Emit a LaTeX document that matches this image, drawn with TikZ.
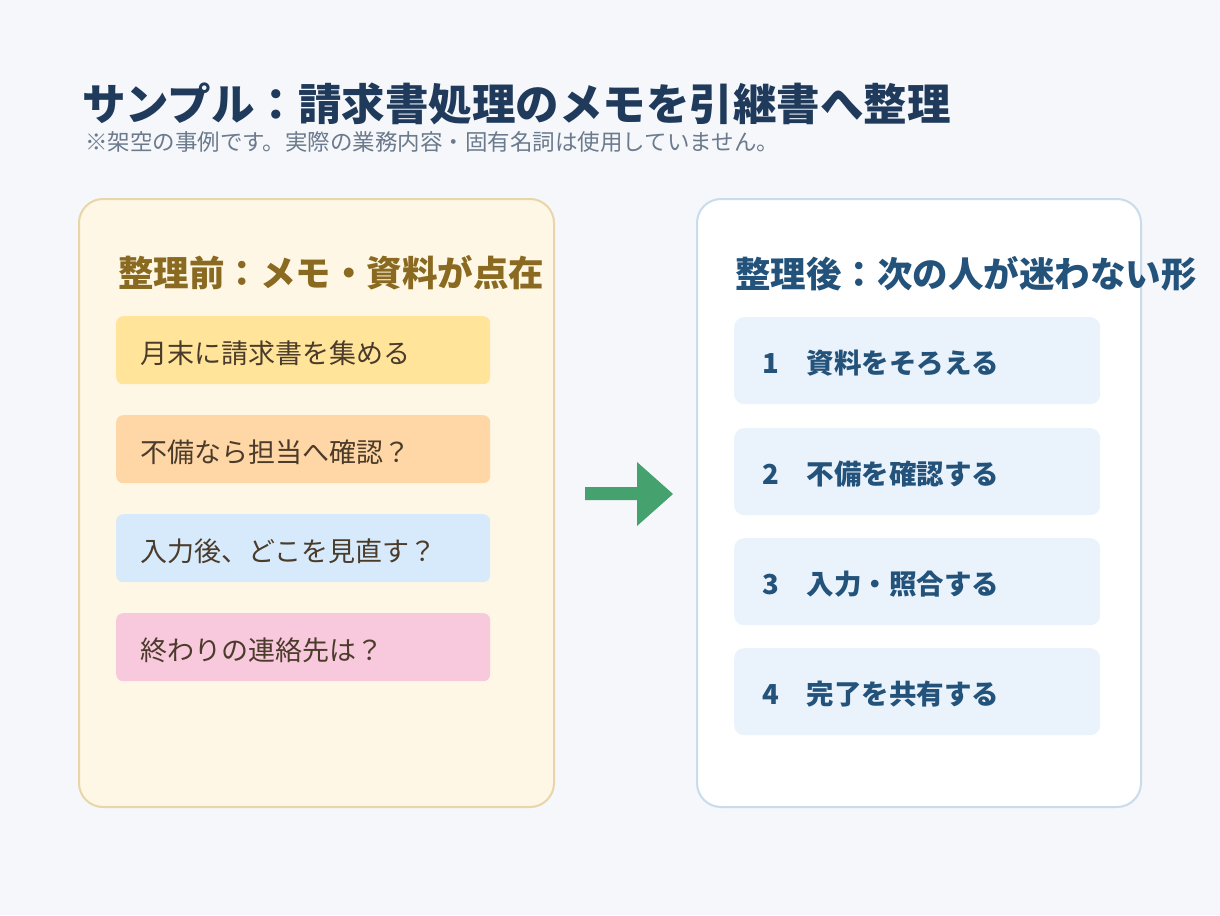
\documentclass[tikz,border=0pt]{standalone}
\usepackage{fontspec}
\setmainfont{Noto Sans CJK JP}
\usepackage{xcolor}
\definecolor{bg}{HTML}{F5F7FB}
\definecolor{navy}{HTML}{1F3A5A}
\definecolor{subgray}{HTML}{6B7A8C}
\definecolor{leftfill}{HTML}{FFF7E6}
\definecolor{leftline}{HTML}{E8D5A8}
\definecolor{brown}{HTML}{8A6A20}
\definecolor{memotext}{HTML}{4A3B2A}
\definecolor{memoA}{HTML}{FFE49A}
\definecolor{memoB}{HTML}{FFD6A5}
\definecolor{memoC}{HTML}{D6EAFB}
\definecolor{memoD}{HTML}{F8C8DC}
\definecolor{rightline}{HTML}{C9DCEB}
\definecolor{steptext}{HTML}{23527A}
\definecolor{stepfill}{HTML}{EAF2FB}
\definecolor{arrowgreen}{HTML}{45A26E}
\begin{document}
\begin{tikzpicture}[x=1pt,y=-1pt]
\tikzset{panel/.style = {rounded corners=24pt, line width=2pt}}
\tikzset{memo/.style = {rounded corners=7pt, minimum width=374pt, minimum height=68pt, anchor=north west, inner sep=0pt}}
\tikzset{memolabel/.style = {anchor=west, inner sep=0pt, font=\fontsize{27}{31}\selectfont, text=memotext}}
\tikzset{stepbox/.style = {rounded corners=10pt, fill=stepfill, minimum width=366pt, minimum height=87pt, anchor=north west, inner sep=0pt}}
\tikzset{steplabel/.style = {anchor=west, inner sep=0pt, font=\bfseries\fontsize{27.5}{31}\selectfont, text=steptext}}
\tikzset{heading/.style = {anchor=west, font=\bfseries\fontsize{35.5}{40}\selectfont, inner sep=0pt}}
% background
\fill[bg] (0,0) rectangle (1220,915);
\useasboundingbox (0,0) rectangle (1220,915);
% title
\node[anchor=west, inner sep=0pt, text=navy, font=\bfseries\fontsize{43.5}{48}\selectfont] (title) at (82,104) {サンプル：請求書処理のメモを引継書へ整理};
\node[anchor=west, inner sep=0pt, text=subgray, font=\fontsize{22.5}{26}\selectfont] (sub) at (85,142) {※架空の事例です。実際の業務内容・固有名詞は使用していません。};
% before
\draw[panel, fill=leftfill, draw=leftline] (79,199) rectangle (554,807);
\node[heading, text=brown] (lefthead) at (118,273) {整理前：メモ・資料が点在};
\node[memo, fill=memoA] (m1) at (116,316) {};
\node[memo, fill=memoB] (m2) at (116,415) {};
\node[memo, fill=memoC] (m3) at (116,514) {};
\node[memo, fill=memoD] (m4) at (116,613) {};
\node[memolabel] at ([xshift=24pt,yshift=-3pt]m1.west) {月末に請求書を集める};
\node[memolabel] at ([xshift=24pt,yshift=-3pt]m2.west) {不備なら担当へ確認？};
\node[memolabel] at ([xshift=24pt,yshift=-3pt]m3.west) {入力後、どこを見直す？};
\node[memolabel] at ([xshift=24pt,yshift=-3pt]m4.west) {終わりの連絡先は？};
% arrow
\fill[arrowgreen] (585,487) -- (637,487) -- (637,462) -- (673,494) -- (637,526) -- (637,500) -- (585,500) -- cycle;
% after
\draw[panel, fill=white, draw=rightline] (697,199) rectangle (1141,807);
\node[heading, text=steptext] (righthead) at (735,274) {整理後：次の人が迷わない形};
\node[stepbox] (s1) at (734,317) {};
\node[stepbox] (s2) at (734,428) {};
\node[stepbox] (s3) at (734,538) {};
\node[stepbox] (s4) at (734,648) {};
\node[steplabel] at ([xshift=28pt,yshift=-2pt]s1.west) {1\hspace{28pt}資料をそろえる};
\node[steplabel] at ([xshift=28pt,yshift=-2pt]s2.west) {2\hspace{28pt}不備を確認する};
\node[steplabel] at ([xshift=28pt,yshift=-2pt]s3.west) {3\hspace{28pt}入力・照合する};
\node[steplabel] at ([xshift=28pt,yshift=-2pt]s4.west) {4\hspace{28pt}完了を共有する};
\end{tikzpicture}
\end{document}
